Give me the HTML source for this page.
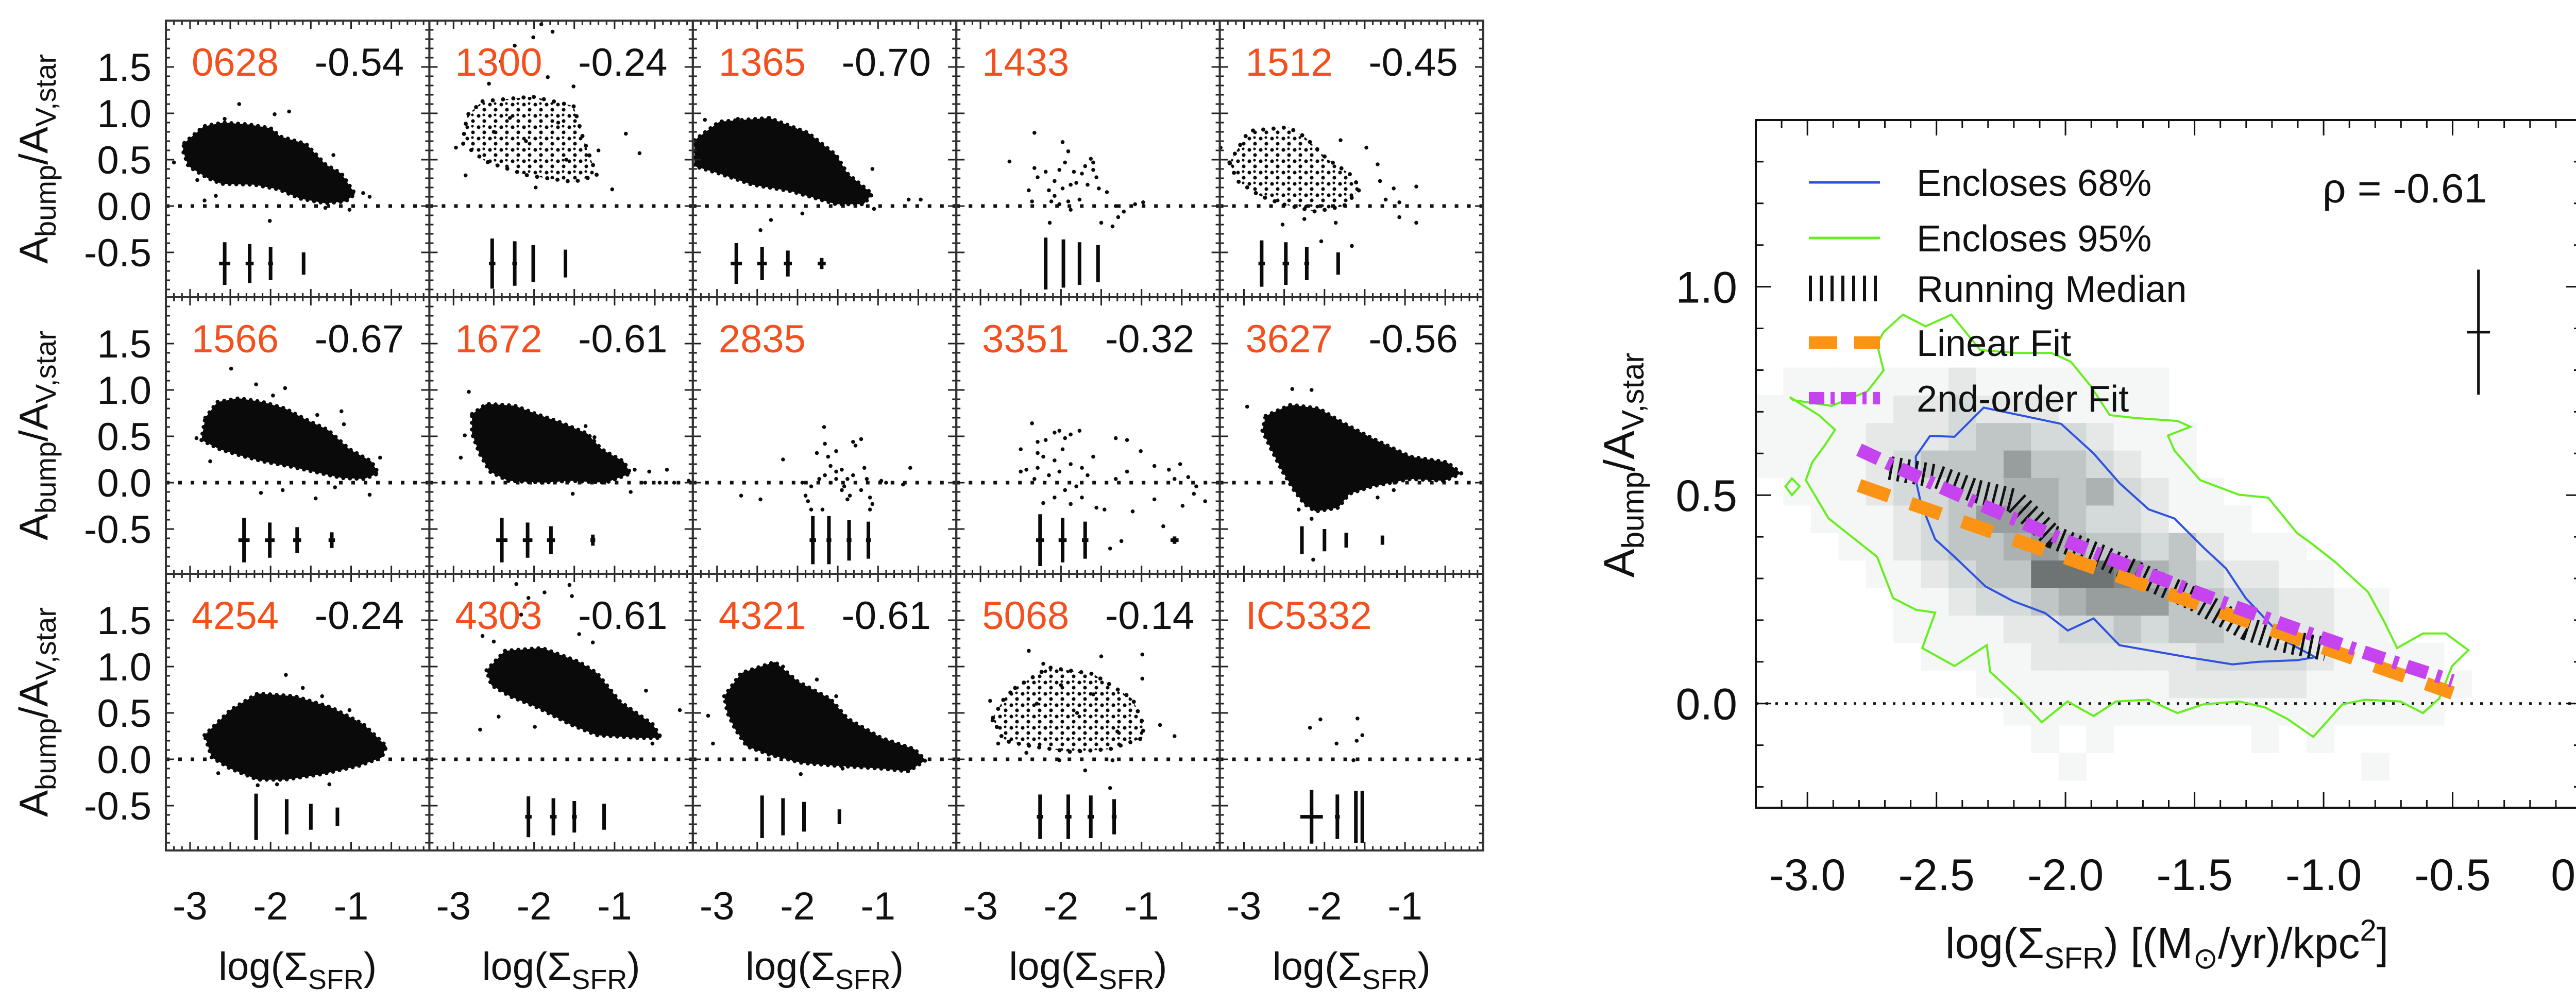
<!DOCTYPE html>
<html><head><meta charset="utf-8"><style>
html,body{margin:0;padding:0;background:#fff;}
svg{display:block;}
text{font-family:"Liberation Sans",sans-serif;}
.nar{font-family:"Liberation Sans Narrow","Liberation Sans",sans-serif;}
</style></head><body>
<svg id="fig" xmlns="http://www.w3.org/2000/svg" width="5071" height="1951" viewBox="0 0 5071 1951">
<defs>
<pattern id="stip" width="22" height="22" patternUnits="userSpaceOnUse">
<circle cx="5" cy="5" r="3.6" fill="#0a0a0a"/><circle cx="16" cy="15" r="3.6" fill="#0a0a0a"/><circle cx="15" cy="3" r="2.6" fill="#0a0a0a"/>
</pattern>
</defs>
<rect x="0" y="0" width="5071" height="1951" fill="#fff"/>
<g id="left"></g>
<g id="right"></g>
</svg>
<script>
// ---------- left grid data ----------
const galaxyNames = ["0628","1300","1365","1433","1512","1566","1672","2835","3351","3627","4254","4303","4321","5068","IC5332"];
const rhoValues = ["-0.54","-0.24","-0.70","","-0.45","-0.67","-0.61","","-0.32","-0.56","-0.24","-0.61","-0.61","-0.14",""];
const hullOpacity = [1,0.55,1,0,0.6,1,1,0,0,1,1,1,1,0.5,0];
const hulls = [
 [[-3.07,0.68],[-2.83,0.86],[-2.59,0.90],[-2.27,0.88],[-2.0,0.84],[-1.88,0.75],[-1.56,0.67],[-1.32,0.45],[-1.12,0.35],[-0.95,0.13],[-1.07,0.05],[-1.32,0.03],[-1.63,0.08],[-1.90,0.18],[-2.2,0.23],[-2.61,0.24],[-2.78,0.30],[-3.02,0.43],[-3.09,0.6]],
 [[-2.64,1.13],[-2.02,1.18],[-1.51,1.08],[-1.39,0.73],[-1.22,0.33],[-1.51,0.26],[-2.08,0.33],[-2.6,0.48],[-2.89,0.68],[-2.83,0.98]],
 [[-3.28,0.71],[-2.97,0.91],[-2.35,0.95],[-1.87,0.79],[-1.52,0.55],[-1.38,0.35],[-1.07,0.13],[-1.18,0.02],[-1.52,0.02],[-2.08,0.16],[-2.56,0.23],[-2.97,0.35],[-3.28,0.43]],
 [],
 [[-3.18,0.47],[-2.94,0.81],[-2.45,0.85],[-2.25,0.75],[-1.97,0.51],[-1.69,0.35],[-1.55,0.19],[-1.76,0.0],[-2.11,-0.06],[-2.52,0.02],[-2.80,0.11],[-3.08,0.27]],
 [[-2.81,0.70],[-2.66,0.87],[-2.39,0.91],[-2.10,0.87],[-1.82,0.80],[-1.56,0.68],[-1.29,0.57],[-1.02,0.36],[-0.75,0.23],[-0.66,0.10],[-0.84,0.04],[-1.11,0.05],[-1.47,0.12],[-1.73,0.17],[-2.10,0.23],[-2.36,0.29],[-2.63,0.36],[-2.86,0.46]],
 [[-2.77,0.74],[-2.59,0.85],[-2.24,0.83],[-1.97,0.74],[-1.70,0.66],[-1.34,0.53],[-1.16,0.36],[-0.89,0.23],[-0.80,0.10],[-1.11,0.0],[-1.56,0.02],[-1.88,0.0],[-2.32,0.02],[-2.55,0.12],[-2.68,0.32],[-2.77,0.53]],
 [],
 [],
 [[-2.73,0.72],[-2.42,0.84],[-2.07,0.80],[-1.76,0.64],[-1.41,0.48],[-0.93,0.28],[-0.48,0.22],[-0.30,0.10],[-0.51,0.02],[-0.93,0.04],[-1.41,-0.04],[-1.69,-0.12],[-1.83,-0.27],[-2.11,-0.31],[-2.25,-0.23],[-2.38,-0.08],[-2.52,0.12],[-2.66,0.36],[-2.77,0.56]],
 [[-2.82,0.26],[-2.50,0.53],[-2.16,0.71],[-1.70,0.68],[-1.25,0.56],[-0.85,0.38],[-0.56,0.14],[-0.62,0.02],[-0.90,-0.07],[-1.36,-0.16],[-1.82,-0.22],[-2.16,-0.22],[-2.50,-0.10],[-2.73,0.02]],
 [[-2.59,0.96],[-2.36,1.17],[-1.90,1.20],[-1.44,1.05],[-1.22,0.93],[-0.93,0.62],[-0.53,0.38],[-0.42,0.23],[-0.70,0.23],[-1.22,0.26],[-1.56,0.38],[-1.96,0.56],[-2.30,0.68],[-2.53,0.80]],
 [[-2.91,0.68],[-2.70,0.93],[-2.28,1.05],[-2.00,0.84],[-1.59,0.65],[-1.38,0.44],[-0.96,0.23],[-0.55,0.11],[-0.41,-0.01],[-0.62,-0.13],[-0.96,-0.10],[-1.52,-0.07],[-1.94,-0.04],[-2.35,0.05],[-2.63,0.14],[-2.77,0.32],[-2.87,0.50]],
 [[-2.57,0.77],[-2.15,0.99],[-1.60,0.92],[-1.11,0.65],[-0.98,0.38],[-0.98,0.23],[-1.39,0.11],[-1.88,0.08],[-2.36,0.14],[-2.71,0.20],[-2.85,0.44],[-2.71,0.65]],
 []
];
const points = [
 [[-3.2,0.47],[-2.39,1.10],[-1.77,1.02],[-1.95,0.99],[-2.57,0.94],[-1.22,0.55],[-0.77,0.10],[-2.01,-0.16],[-1.02,-0.04],[-1.32,-0.02],[-2.82,0.06],[-2.68,0.11],[-2.91,0.28],[-0.85,0.14]],
 [[-1.91,1.96],[-1.77,1.88],[-2.01,1.82],[-2.24,1.73],[-2.41,1.56],[-2.56,1.32],[-1.83,1.39],[-1.51,1.29],[-0.86,0.78],[-0.69,0.57],[-1.03,0.18],[-1.98,0.2],[-2.97,0.63],[-2.85,0.33],[-1.2,0.6],[-2.3,0.95],[-2.1,0.7],[-1.7,0.9],[-2.5,0.8],[-1.6,0.5]],
 [[-3.15,0.93],[-2.74,0.94],[-2.35,0.95],[-1.07,0.40],[-0.62,0.07],[-0.47,0.07],[-1.94,-0.08],[-2.46,-0.26],[-2.33,-0.15],[-1.05,-0.03]],
 [[-2.33,0.41],[-2.29,0.31],[-2.40,0.17],[-2.19,0.37],[-2.08,0.27],[-2.02,0.39],[-1.95,0.47],[-1.84,0.37],[-1.74,0.35],[-1.63,0.51],[-1.60,0.39],[-1.81,0.25],[-1.98,0.19],[-2.08,0.11],[-1.91,0.05],[-1.77,0.07],[-2.02,0.02],[-2.12,0.05],[-1.53,0.19],[-1.43,0.15],[-1.67,0.23],[-1.88,0.23],[-2.15,0.17],[-1.60,0.47],[-1.56,0.31],[-1.70,0.43],[-2.36,0.05],[-1.32,0.0],[-1.22,-0.06],[-1.29,-0.12],[-1.50,-0.18],[-1.36,-0.22],[-0.98,0.04],[-1.08,0.02],[-2.14,-0.18],[-1.88,-0.04],[-2.33,0.79],[-2.64,0.48],[-1.98,0.69],[-1.91,0.59]],
 [[-1.80,0.71],[-1.48,0.63],[-1.34,0.45],[-1.31,0.27],[-1.14,0.19],[-0.86,0.21],[-1.07,0.04],[-0.86,-0.18],[-1.07,-0.12],[-1.86,-0.18],[-2.52,-0.20],[-2.25,-0.14],[-3.29,0.63],[-1.66,-0.43],[-2.04,-0.38],[-1.24,0.07]],
 [[-2.49,1.23],[-2.18,1.06],[-1.82,1.02],[-1.97,0.94],[-1.12,0.77],[-1.09,0.63],[-1.42,0.73],[-0.64,0.27],[-0.77,-0.13],[-1.44,-0.17],[-1.85,-0.08],[-2.12,-0.11],[-2.75,0.23],[-2.92,0.48],[-1.20,-0.05]],
 [[-2.81,0.98],[-1.36,0.61],[-1.25,0.49],[-0.75,0.14],[-0.57,0.12],[-0.35,0.14],[-0.26,0.0],[-0.08,0.02],[-0.44,0.0],[-0.62,0.0],[-1.52,-0.12],[-0.80,-0.10],[-2.91,0.27],[-2.86,0.51]],
 [[-1.67,0.60],[-2.18,0.25],[-2.70,-0.14],[-2.46,-0.18],[-1.66,0.42],[-1.62,0.28],[-1.52,0.34],[-1.31,0.44],[-1.21,0.47],[-1.28,0.40],[-1.76,0.32],[-1.59,0.18],[-1.52,0.12],[-1.45,0.14],[-1.38,0.04],[-1.73,0.04],[-1.83,-0.04],[-1.90,-0.14],[-1.87,-0.20],[-1.69,-0.29],[-1.83,-0.29],[-1.31,0.08],[-1.17,0.16],[-1.14,0.04],[-1.21,-0.08],[-1.10,-0.16],[-1.38,-0.18],[-1.45,-0.08],[-1.59,0.0],[-1.66,0.08],[-0.96,0.02],[-0.90,0.0],[-0.60,0.16],[-0.69,-0.02],[-1.10,-0.29],[-1.07,-0.23],[-1.94,0.0],[-1.52,0.04],[-1.42,-0.04],[-1.35,-0.14]],
 [[-2.36,0.64],[-2.50,0.36],[-2.29,0.44],[-2.19,0.46],[-2.08,0.54],[-2.02,0.56],[-1.95,0.48],[-1.88,0.52],[-1.77,0.56],[-1.98,0.36],[-2.08,0.24],[-2.22,0.28],[-2.29,0.16],[-2.43,0.14],[-2.33,0.04],[-2.15,0.08],[-2.02,0.12],[-1.88,0.20],[-1.74,0.16],[-1.67,0.08],[-1.60,0.28],[-1.81,-0.04],[-1.95,-0.08],[-2.08,-0.16],[-2.22,-0.22],[-1.88,-0.23],[-1.74,-0.16],[-1.56,-0.27],[-1.46,-0.29],[-1.32,0.48],[-1.18,0.46],[-1.01,0.34],[-1.32,0.04],[-1.18,0.12],[-0.84,0.18],[-0.66,0.14],[-0.52,0.20],[-0.59,0.04],[-0.42,0.06],[-0.32,-0.04],[-0.21,-0.20],[-0.35,-0.12],[-0.84,-0.18],[-0.49,-0.25],[-1.11,-0.31],[-0.73,-0.47],[-1.39,-0.71],[-1.25,-0.63],[-2.29,0.32],[-2.50,0.12]],
 [[-2.40,1.01],[-2.16,1.00],[-2.96,0.82],[-2.32,-0.29],[-2.16,-0.39],[-2.14,-0.83],[-1.34,-0.16],[-1.14,-0.08]],
 [[-1.81,0.91],[-1.60,0.77],[-1.02,0.53],[-1.36,0.68],[-1.27,-0.27],[-1.92,-0.27],[-2.16,-0.28],[-2.65,-0.15]],
 [[-2.22,1.89],[-1.56,1.88],[-1.87,1.80],[-2.07,1.74],[-1.53,1.76],[-2.64,1.33],[-2.50,1.27],[-1.27,1.26],[-2.67,0.32],[-2.44,0.46],[-1.99,0.35],[-0.53,0.17],[-0.61,0.74],[-0.19,0.53],[-2.16,1.56],[-1.44,1.35]],
 [[-1.76,0.86],[-1.52,0.68],[-3.11,0.47],[-3.05,0.17],[-1.96,-0.16],[-1.44,-0.10],[-2.18,1.00]],
 [[-2.40,1.17],[-1.50,1.11],[-0.99,1.13],[-2.22,1.03],[-0.99,0.87],[-2.88,0.63],[-2.85,0.42],[-2.78,0.17],[-0.77,0.37],[-0.59,0.25],[-2.43,0.07],[-1.70,-0.12],[-1.39,-0.31],[-1.36,-0.01],[-2.02,-0.01],[-2.3,0.6],[-1.8,0.5],[-1.3,0.3],[-2.0,0.8],[-1.6,0.7]],
 [[-2.05,0.43],[-2.18,0.34],[-1.59,0.44],[-1.85,0.17],[-1.60,0.20],[-1.53,0.26],[-1.64,-0.01]]
];
const errX = [[-2.57,-2.26,-2.0,-1.59],[-2.52,-2.24,-2.01,-1.61],[-2.76,-2.44,-2.12,-1.70],[-2.19,-1.97,-1.77,-1.54],[-2.78,-2.48,-2.22,-1.83],
 [-2.33,-2.01,-1.67,-1.24],[-2.40,-2.08,-1.79,-1.27],[-1.81,-1.61,-1.36,-1.12],[-2.26,-1.98,-1.70,-0.59],[-2.28,-2.00,-1.73,-1.28],
 [-2.18,-1.80,-1.50,-1.17],[-2.07,-1.76,-1.50,-1.13],[-2.44,-2.18,-1.92,-1.48],[-2.26,-1.91,-1.63,-1.34],[-2.16,-1.84,-1.61,-1.53]];
const errHalf = [[0.23,0.21,0.18,0.12],[0.27,0.24,0.20,0.15],[0.22,0.18,0.14,0.06],[0.28,0.26,0.23,0.20],[0.25,0.23,0.18,0.12],
 [0.24,0.19,0.14,0.085],[0.24,0.19,0.15,0.06],[0.26,0.26,0.22,0.20],[0.28,0.24,0.20,0.04],[0.15,0.12,0.08,0.05],
 [0.25,0.19,0.14,0.10],[0.22,0.20,0.17,0.14],[0.23,0.20,0.16,0.08],[0.24,0.24,0.23,0.19],[0.29,0.24,0.28,0.28]];
const errXHalf = [[0.07,0.05,0.03,0],[0.04,0.03,0.02,0],[0.07,0.06,0.05,0.05],[0.02,0,0,0],[0.04,0.04,0.03,0.02],
 [0.07,0.06,0.05,0.04],[0.07,0.06,0.05,0.03],[0.04,0.03,0.03,0.03],[0.05,0.05,0.04,0.05],[0,0,0,0],
 [0,0,0,0],[0.04,0.04,0.03,0.02],[0.02,0,0,0],[0.04,0.04,0.04,0.03],[0.14,0.03,0,0]];
const errY = -0.62;
const yTickVals = [-0.5,0.0,0.5,1.0,1.5];
const yTickLabels = ["-0.5","0.0","0.5","1.0","1.5"];
const xTickVals = [-3,-2,-1];
const xTickLabels = ["-3","-2","-1"];

// ---------- right panel data ----------
const heatRows = [
 "000000000000000000000000000000",
 "000000000001000000000010000000",
 "000000000010100000101000000000",
 "000000000111111111111111100000",
 "000000001111111222221111110000",
 "000000111122222233332111100000",
 "000001111223343443322110000000",
 "000001123345666443322110000000",
 "000011234488875432211000000000",
 "000112344565443421110000000000",
 "001112346654332111000000000000",
 "011123344554532110000000000000",
 "111123444644321100000000000000",
 "111122234433211100000000000000",
 "111112232221111000000000000000",
 "011111121111111000000000000000",
 "000000000000000000000000000000","000000000000000000000000000000","000000000000000000000000000000",
 "000000000000000000000000000000","000000000000000000000000000000","000000000000000000000000000000",
 "000000000000000000000000000000","000000000000000000000000000000","000000000000000000000000000000"
];
const contour68 = [[-2.58,0.593],[-2.525,0.642],[-2.43,0.640],[-2.317,0.710],[-2.154,0.689],[-2.017,0.671],[-1.891,0.600],[-1.791,0.529],[-1.678,0.466],[-1.578,0.444],[-1.465,0.374],[-1.378,0.324],[-1.302,0.253],[-1.215,0.196],[-1.14,0.147],[-1.032,0.111],[-1.102,0.104],[-1.253,0.100],[-1.353,0.094],[-1.516,0.110],[-1.791,0.140],[-1.891,0.204],[-1.991,0.175],[-2.079,0.217],[-2.204,0.246],[-2.31,0.281],[-2.43,0.352],[-2.505,0.394],[-2.56,0.480],[-2.58,0.536]];
const contour95 = [[-3.068,0.735],[-2.956,0.692],[-2.893,0.657],[-2.931,0.621],[-2.981,0.579],[-3.006,0.536],[-2.918,0.444],[-2.818,0.395],[-2.73,0.352],[-2.668,0.253],[-2.58,0.225],[-2.505,0.218],[-2.555,0.133],[-2.43,0.090],[-2.305,0.140],[-2.292,0.076],[-2.179,0.012],[-2.092,-0.045],[-1.992,0.005],[-1.891,-0.030],[-1.804,0.005],[-1.679,0.009],[-1.566,-0.023],[-1.466,-0.002],[-1.328,0.005],[-1.228,-0.009],[-1.14,-0.037],[-1.04,-0.080],[-0.927,-0.002],[-0.84,0.009],[-0.702,0.005],[-0.615,-0.023],[-0.552,0.012],[-0.502,0.090],[-0.439,0.128],[-0.527,0.168],[-0.615,0.168],[-0.715,0.133],[-0.765,0.196],[-0.827,0.267],[-0.952,0.338],[-1.04,0.381],[-1.103,0.409],[-1.215,0.494],[-1.328,0.501],[-1.478,0.536],[-1.578,0.607],[-1.603,0.643],[-1.516,0.664],[-1.566,0.678],[-1.729,0.685],[-1.829,0.692],[-1.904,0.763],[-1.979,0.820],[-2.054,0.841],[-2.192,0.841],[-2.33,0.848],[-2.442,0.933],[-2.542,0.905],[-2.63,0.933],[-2.705,0.891],[-2.73,0.862],[-2.705,0.799],[-2.768,0.749],[-2.906,0.714],[-3.056,0.728]];
const contour95island = [[-3.085,0.521],[-3.06,0.54],[-3.03,0.521],[-3.06,0.50]];
const medianX = [-2.68,-2.5,-2.35,-2.2,-2.05,-1.85,-1.68,-1.5,-1.3,-1.15,-0.99];
const medianY = [0.565,0.545,0.51,0.487,0.40,0.35,0.30,0.25,0.18,0.15,0.13];
const linCoef = [-0.083,-0.2165];
const quadCoef = [-0.0368,-0.1721,0.0209];
const fitRange = [-2.8,-0.5];
const rhoText = "ρ = -0.61";
const repErr = {x:-0.40, y:0.891, dy:0.15, dx:0.045};
const rXTicks = [-3.0,-2.5,-2.0,-1.5,-1.0,-0.5,0.0];
const rXLabels = ["-3.0","-2.5","-2.0","-1.5","-1.0","-0.5","0.0"];
const rYTicks = [0.0,0.5,1.0];
const rYLabels = ["0.0","0.5","1.0"];
const legendLabels = ["Encloses 68%","Encloses 95%","Running Median","Linear Fit","2nd-order Fit"];

// ---------- helpers ----------
const NS = "http://www.w3.org/2000/svg";
function mk(tag, attrs, parent){ const e=document.createElementNS(NS,tag); for(const k in attrs) e.setAttribute(k,attrs[k]); parent.appendChild(e); return e; }
const L = document.getElementById('left');
const R = document.getElementById('right');

const L0=322, PW=511.4, T0=40, PH=537, XU=156.3, YU=180;
function xs(v,col){ return L0+col*PW+(v+3.3)*XU; }
function ys(v,row){ return T0+row*PH+(2.0-v)*YU; }

for(let i=0;i<15;i++){
  const col=i%5, row=Math.floor(i/5);
  const g = mk('g',{},L);
  
  
  const px=L0+col*PW, py=T0+row*PH;
  const z = mk('line',{x1:px,x2:px+PW,y1:ys(0,row),y2:ys(0,row),stroke:'#111','stroke-width':7,'stroke-dasharray':'7 17'},g);
  
  
  if(hulls[i].length && hullOpacity[i]>0){
    const pts = hulls[i].map(p=>xs(p[0],col).toFixed(1)+','+ys(p[1],row).toFixed(1)).join(' ');
    const dense = hullOpacity[i]>=1;
    const h = mk('polygon',{points:pts,fill:dense?'#0a0a0a':'url(#stip)',stroke:'none'},g);
    
    
    const e = mk('polygon',{points:pts,fill:'none',stroke:'#0a0a0a','stroke-width':8,'stroke-linecap':'round','stroke-dasharray':dense?'0 13':'0 20'},g);
    
    
  }
  for(const p of points[i]){
    const c = mk('circle',{cx:xs(p[0],col),cy:ys(p[1],row),r:3.8,fill:'#0a0a0a'},g);
    
    
  }
  for(let k=0;k<errX[i].length;k++){
    const ex=xs(errX[i][k],col), ey=ys(errY,row);
    const b = mk('line',{x1:ex,x2:ex,y1:ys(errY+errHalf[i][k],row),y2:ys(errY-errHalf[i][k],row),stroke:'#0a0a0a','stroke-width':7},g);
    
    
    if(errXHalf[i][k]>0){
      const hb = mk('line',{x1:xs(errX[i][k]-errXHalf[i][k],col),x2:xs(errX[i][k]+errXHalf[i][k],col),y1:ey,y2:ey,stroke:'#0a0a0a','stroke-width':7},g);
      
      
    }
  }
  let d='';
  for(let t=-3.3;t<=0.0001;t+=0.1){
    const v=Math.round(t*10)/10; const x=xs(v,col);
    if(x<px+2||x>px+PW-2) continue;
    const major = Math.abs(v*2-Math.round(v*2))<1e-6;
    const len = major?16:8;
    d+=`M${x.toFixed(1)} ${py}v${len}M${x.toFixed(1)} ${py+PH}v${-len}`;
  }
  for(let t=-0.9;t<=1.95;t+=0.1){
    const v=Math.round(t*10)/10; const y=ys(v,row);
    const major = Math.abs(v*2-Math.round(v*2))<1e-6;
    const len = major?16:8;
    d+=`M${px} ${y.toFixed(1)}h${len}M${px+PW} ${y.toFixed(1)}h${-len}`;
  }
  const tk = mk('path',{d:d,stroke:'#222','stroke-width':3,fill:'none'},g);
  
  
  const fr = mk('rect',{x:px,y:py,width:PW,height:PH,fill:'none',stroke:'#333','stroke-width':4},g);
  
  
  const nm = mk('text',{x:px+50,y:py+107,'font-size':76,fill:'#f4501e',class:'nar'},g);
  nm.textContent=galaxyNames[i];
  
  
  if(rhoValues[i]){
    const rt = mk('text',{x:px+462,y:py+107,'font-size':76,fill:'#111','text-anchor':'end',class:'nar'},g);
    rt.textContent=rhoValues[i];
    
    
  }
  if(col===0){
    for(let k=0;k<yTickVals.length;k++){
      const tl = mk('text',{x:294,y:ys(yTickVals[k],row)+27,'font-size':76,'text-anchor':'end',fill:'#111',class:'nar'},L);
      tl.textContent=yTickLabels[k];
      
      
    }
    const yl = mk('text',{x:0,y:0,'font-size':78,'text-anchor':'middle',fill:'#111',transform:`translate(92 ${py+PH/2}) rotate(-90)`},L);
    yl.innerHTML='A<tspan dy="16" font-size="56">bump</tspan><tspan dy="-16">/A</tspan><tspan dy="16" font-size="56">V,star</tspan>';
    
    
  }
  if(row===2){
    for(let k=0;k<xTickVals.length;k++){
      const tl = mk('text',{x:xs(xTickVals[k],col),y:1785,'font-size':76,'text-anchor':'middle',fill:'#111',class:'nar'},L);
      tl.textContent=xTickLabels[k];
      
      
    }
    const xl = mk('text',{x:px+PW/2,y:1902,'font-size':76,'text-anchor':'middle',fill:'#111',class:'nar'},L);
    xl.innerHTML='log(Σ<tspan dy="18" font-size="54">SFR</tspan><tspan dy="-18">)</tspan>';
    
    
  }
}

// ---------- right panel ----------
const RX0=3408, RX1=5011, RY0=233, RY1=1568;
const xmin=-3.2,xmax=0.0,ymin=-0.25,ymax=1.4;
function xr(v){ return RX0+(v-xmin)/(xmax-xmin)*(RX1-RX0); }
function yr(v){ return RY1-(v-ymin)/(ymax-ymin)*(RY1-RY0); }
const grays=[255,245,230,212,192,172,152,128,110,96];
const cw=(xmax-xmin)/30, chh=(ymax-ymin)/25;
for(let r=0;r<heatRows.length;r++){
  for(let c=0;c<30;c++){
    const lv=+heatRows[r][c];
    if(!lv) continue;
    const gv=grays[lv];
    const tint = lv>=3?6:1;
    const cell = mk('rect',{x:xr(xmin+c*cw).toFixed(1),y:yr(ymin+(r+1)*chh).toFixed(1),width:(xr(xmin+(c+1)*cw)-xr(xmin+c*cw)+0.8).toFixed(1),height:(yr(ymin+r*chh)-yr(ymin+(r+1)*chh)+0.8).toFixed(1),fill:`rgb(${gv},${Math.min(255,gv+tint)},${Math.min(255,gv+tint)})`},R);
    
    
  }
}
const rz = mk('line',{x1:RX0,x2:RX1,y1:yr(0),y2:yr(0),stroke:'#111','stroke-width':5,'stroke-dasharray':'5 14'},R);


const c95 = mk('polygon',{points:contour95.map(p=>xr(p[0]).toFixed(1)+','+yr(p[1]).toFixed(1)).join(' '),fill:'none',stroke:'#66ee1e','stroke-width':4},R);


const c95b = mk('polygon',{points:contour95island.map(p=>xr(p[0]).toFixed(1)+','+yr(p[1]).toFixed(1)).join(' '),fill:'none',stroke:'#66ee1e','stroke-width':4},R);


const c68 = mk('polygon',{points:contour68.map(p=>xr(p[0]).toFixed(1)+','+yr(p[1]).toFixed(1)).join(' '),fill:'none',stroke:'#2f52e0','stroke-width':4},R);


const med = mk('polyline',{points:medianX.map((x,k)=>xr(x).toFixed(1)+','+yr(medianY[k]).toFixed(1)).join(' '),fill:'none',stroke:'#111','stroke-width':46,'stroke-dasharray':'5 11'},R);


function lin(x){ return linCoef[0]+linCoef[1]*x; }
function quad(x){ return quadCoef[0]+quadCoef[1]*x+quadCoef[2]*x*x; }
const lf = mk('line',{x1:xr(fitRange[0]),y1:yr(lin(fitRange[0])),x2:xr(fitRange[1]),y2:yr(lin(fitRange[1])),stroke:'#fb9314','stroke-width':26,'stroke-dasharray':'62 44'},R);


let qp=[]; for(let k=0;k<=40;k++){ const x=fitRange[0]+(fitRange[1]-fitRange[0])*k/40; qp.push(xr(x).toFixed(1)+','+yr(quad(x)).toFixed(1)); }
const qf = mk('polyline',{points:qp.join(' '),fill:'none',stroke:'#c544ef','stroke-width':26,'stroke-dasharray':'42 18 10 18'},R);


const reb = mk('path',{d:`M${xr(repErr.x)} ${yr(repErr.y+repErr.dy)}V${yr(repErr.y-repErr.dy)}M${xr(repErr.x-repErr.dx)} ${yr(repErr.y)}H${xr(repErr.x+repErr.dx)}`,stroke:'#111','stroke-width':5,fill:'none'},R);


let rd='';
for(let t=-3.2;t<=0.0001;t+=0.1){ const v=Math.round(t*10)/10; const x=xr(v); const major=Math.abs(v*2-Math.round(v*2))<1e-6; const len=major?30:15; rd+=`M${x.toFixed(1)} ${RY0}v${len}M${x.toFixed(1)} ${RY1}v${-len}`; }
for(let t=-0.2;t<=1.35;t+=0.1){ const v=Math.round(t*10)/10; const y=yr(v); const major=Math.abs(v*2-Math.round(v*2))<1e-6; const len=major?30:15; rd+=`M${RX0} ${y.toFixed(1)}h${len}M${RX1} ${y.toFixed(1)}h${-len}`; }
const rtk = mk('path',{d:rd,stroke:'#111','stroke-width':3,fill:'none'},R);


const rfr = mk('rect',{x:RX0,y:RY0,width:RX1-RX0,height:RY1-RY0,fill:'none',stroke:'#111','stroke-width':4},R);


for(let k=0;k<rXTicks.length;k++){
  const t = mk('text',{x:xr(rXTicks[k]),y:1728,'font-size':86,'text-anchor':'middle',fill:'#111'},R);
  t.textContent=rXLabels[k];
  
  
}
for(let k=0;k<rYTicks.length;k++){
  const t = mk('text',{x:3372,y:yr(rYTicks[k])+31,'font-size':86,'text-anchor':'end',fill:'#111'},R);
  t.textContent=rYLabels[k];
  
  
}
const rxl = mk('text',{x:4206,y:1860,'font-size':84,'text-anchor':'middle',fill:'#111'},R);
rxl.innerHTML='log(Σ<tspan dy="20" font-size="58">SFR</tspan><tspan dy="-20">)  [(M</tspan><tspan dy="20" font-size="58">⊙</tspan><tspan dy="-20">/yr)/kpc</tspan><tspan dy="-34" font-size="58">2</tspan><tspan dy="34">]</tspan>';


const ryl = mk('text',{x:0,y:0,'font-size':84,'text-anchor':'middle',fill:'#111',transform:'translate(3172 903) rotate(-90)'},R);
ryl.innerHTML='A<tspan dy="18" font-size="60">bump</tspan><tspan dy="-18">/A</tspan><tspan dy="18" font-size="60">V,star</tspan>';


const rho = mk('text',{x:4508,y:393,'font-size':80,fill:'#111'},R);
rho.textContent=rhoText;


const legY=[354,462,560,665,773];
const lg = mk('g',{},R);


const s1 = mk('line',{x1:3511,x2:3649,y1:legY[0],y2:legY[0],stroke:'#2f52e0','stroke-width':5},lg);


const s2 = mk('line',{x1:3511,x2:3649,y1:legY[1],y2:legY[1],stroke:'#66ee1e','stroke-width':5},lg);


const s3 = mk('line',{x1:3511,x2:3649,y1:legY[2],y2:legY[2],stroke:'#111','stroke-width':50,'stroke-dasharray':'6 15'},lg);


const s4 = mk('line',{x1:3511,x2:3649,y1:legY[3],y2:legY[3],stroke:'#fb9314','stroke-width':24,'stroke-dasharray':'55 33'},lg);


const s5 = mk('line',{x1:3511,x2:3649,y1:legY[4],y2:legY[4],stroke:'#c544ef','stroke-width':24,'stroke-dasharray':'30 12 8 12'},lg);


for(let k=0;k<legendLabels.length;k++){
  const t = mk('text',{x:3720,y:legY[k]+26,'font-size':72,fill:'#111'},lg);
  t.textContent=legendLabels[k];
  
  
}
</script>
</body></html>
